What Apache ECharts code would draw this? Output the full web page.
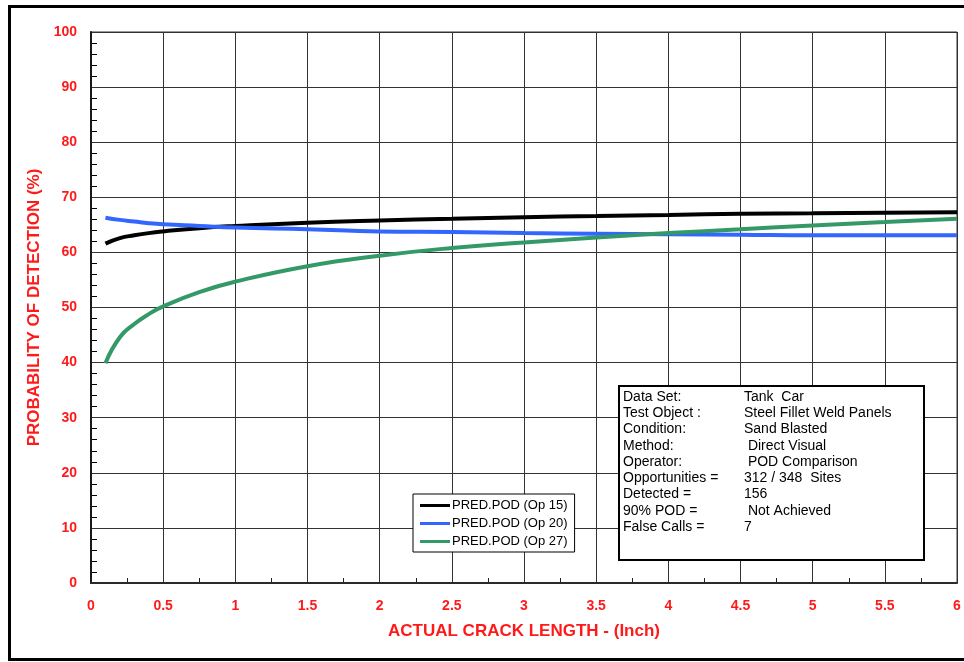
<!DOCTYPE html>
<html>
<head>
<meta charset="utf-8">
<script src="https://cdn.jsdelivr.net/npm/echarts@6/dist/echarts.min.js"></script>
<style>
html,body{margin:0;padding:0;background:#fff;}
#chart{width:964px;height:662px;}
</style>
</head>
<body>
<div id="chart"></div>
<script>
var crackLength = [0.1, 0.2, 0.3, 0.4, 0.5, 0.75, 1, 1.5, 2, 2.5, 3, 3.5, 4, 4.5, 5, 5.5, 6];
var podOp15 = [61.6, 62.6, 63.1, 63.5, 63.8, 64.4, 64.8, 65.4, 65.8, 66.1, 66.4, 66.6, 66.8, 67.0, 67.1, 67.2, 67.3];
var podOp20 = [66.3, 65.9, 65.6, 65.3, 65.1, 64.8, 64.5, 64.2, 63.8, 63.7, 63.5, 63.4, 63.3, 63.2, 63.1, 63.1, 63.1];
var podOp27 = [39.9, 44.6, 47.0, 48.8, 50.2, 52.8, 54.7, 57.5, 59.4, 60.8, 61.8, 62.7, 63.5, 64.2, 64.9, 65.5, 66.1];
var seriesNames = ['PRED.POD (Op 15)', 'PRED.POD (Op 20)', 'PRED.POD (Op 27)'];
var infoLabels = ['Data Set:', 'Test Object :', 'Condition:', 'Method:', 'Operator:', 'Opportunities =', 'Detected =', '90% POD =', 'False Calls ='];
var infoValues = ['Tank  Car', 'Steel Fillet Weld Panels', 'Sand Blasted', ' Direct Visual', ' POD Comparison', '312 / 348  Sites', '156', ' Not Achieved', '7'];
var xTitle = 'ACTUAL CRACK LENGTH - (Inch)';
var yTitle = 'PROBABILITY OF DETECTION (%)';

function pairs(xs, ys) { return xs.map(function (x, i) { return [x, ys[i]]; }); }

var red = '#ff1a1a';
var font = '"Liberation Sans", Arial, sans-serif';
var chart = echarts.init(document.getElementById('chart'), null, {renderer: 'canvas'});

var overlay = [
  {type: 'rect', shape: {x: 91, y: 32, width: 866, height: 551},
    style: {fill: 'none', stroke: '#333', lineWidth: 1}, z: 1, silent: true},
  {type: 'rect', shape: {x: 9.5, y: 6.5, width: 960, height: 653},
    style: {fill: 'none', stroke: '#000', lineWidth: 3}, z: 100, silent: true},
  {type: 'rect', shape: {x: 619, y: 386, width: 305, height: 174},
    style: {fill: '#fff', stroke: '#000', lineWidth: 2}, z: 100, silent: true}
];
infoLabels.forEach(function (t, i) {
  overlay.push({type: 'text', x: 623, y: 390 + i * 16.25, z: 101, silent: true,
    style: {text: t, font: '14px ' + font, fill: '#000', textVerticalAlign: 'top'}});
  overlay.push({type: 'text', x: 744, y: 390 + i * 16.25, z: 101, silent: true,
    style: {text: infoValues[i], font: '14px ' + font, fill: '#000', textVerticalAlign: 'top'}});
});

var colors = ['#000000', '#3366ff', '#339966'];

chart.setOption({
  animation: false,
  backgroundColor: '#fff',
  grid: {left: 91, top: 32, right: 7, bottom: 79, show: false},
  xAxis: {
    type: 'value', min: 0, max: 6, interval: 0.5,
    name: xTitle, nameLocation: 'middle', nameGap: 40,
    nameTextStyle: {color: red, fontWeight: 'bold', fontSize: 17, fontFamily: font},
    axisLine: {show: true, onZero: false, lineStyle: {color: '#222', width: 2}},
    axisTick: {show: false, inside: true},
    minorTick: {show: true, splitNumber: 2, length: 5, lineStyle: {color: '#222', width: 1}},
    axisLabel: {color: red, fontWeight: 'bold', fontSize: 14, fontFamily: font, margin: 16},
    splitLine: {show: true, lineStyle: {color: '#333', width: 1}}
  },
  yAxis: {
    type: 'value', min: 0, max: 100, interval: 10,
    name: yTitle, nameLocation: 'middle', nameGap: 40, nameRotate: 90,
    nameTextStyle: {color: red, fontWeight: 'bold', fontSize: 17, fontFamily: font},
    axisLine: {show: true, onZero: false, lineStyle: {color: '#000', width: 2}},
    axisTick: {show: false, inside: true},
    minorTick: {show: true, splitNumber: 5, length: 6, lineStyle: {color: '#000', width: 1}},
    axisLabel: {color: red, fontWeight: 'bold', fontSize: 14, fontFamily: font, margin: 14},
    splitLine: {show: true, lineStyle: {color: '#333', width: 1}}
  },
  legend: {
    orient: 'vertical', left: 413, top: 494, z: 50,
    backgroundColor: '#fff', borderColor: '#000', borderWidth: 1,
    padding: [5, 7, 4, 7], itemGap: 5, itemWidth: 30, itemHeight: 3, icon: 'rect',
    textStyle: {color: '#000', fontSize: 13, fontFamily: font, padding: [0, 0, 0, -3]},
    data: seriesNames
  },
  series: [podOp15, podOp20, podOp27].map(function (d, i) {
    return {
      name: seriesNames[i], type: 'line', smooth: true, showSymbol: false, symbol: 'none',
      data: pairs(crackLength, d), color: colors[i],
      lineStyle: {color: colors[i], width: 4}, z: 3
    };
  }),
  graphic: overlay
});
</script>
</body>
</html>
